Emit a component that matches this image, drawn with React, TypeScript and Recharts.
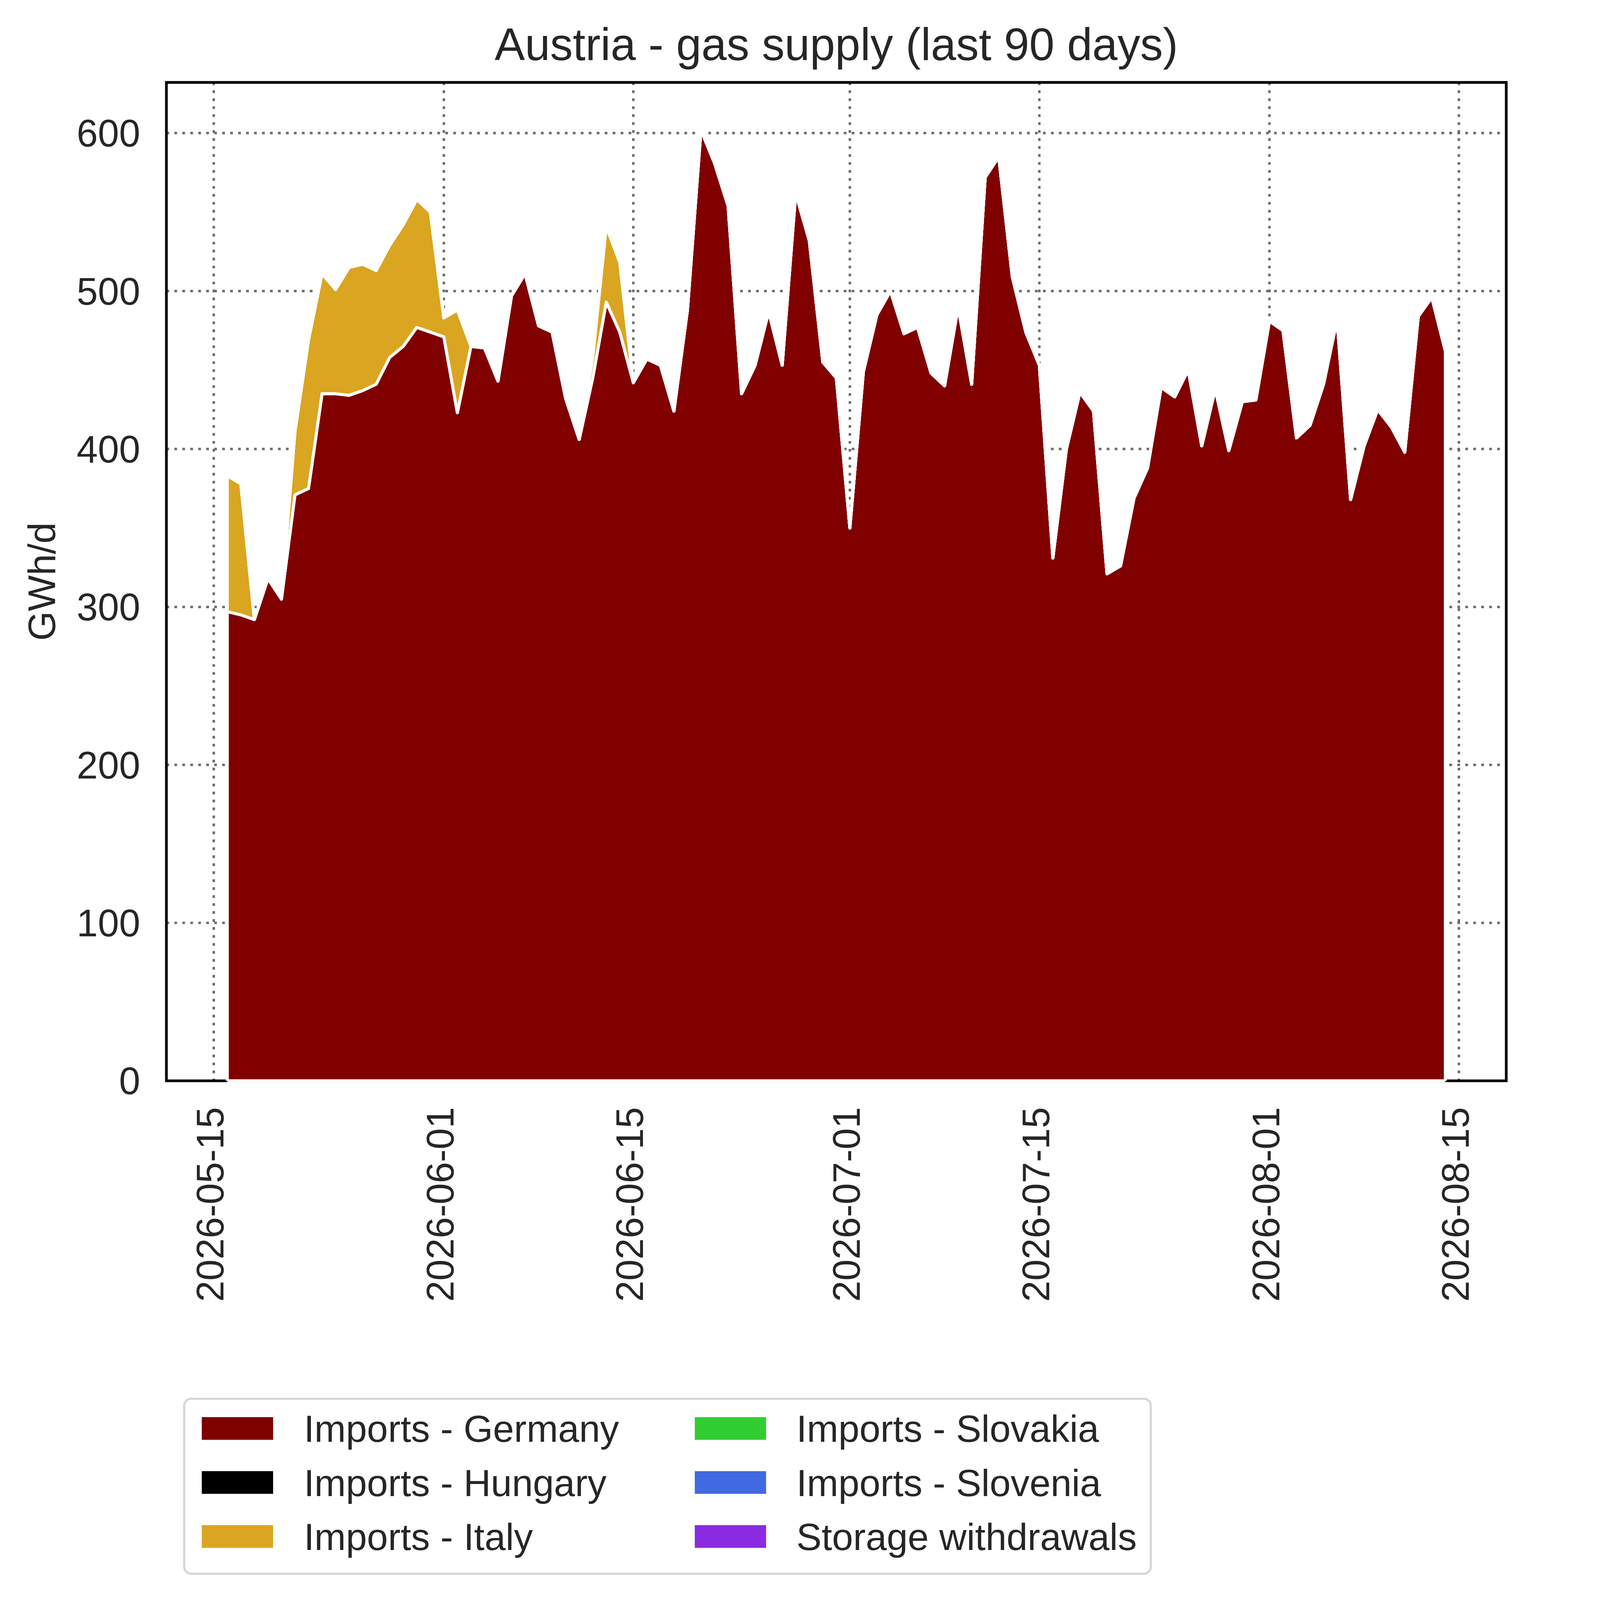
import React from 'react';
import {
  ComposedChart,
  Area,
  Line,
  XAxis,
  YAxis,
  CartesianGrid,
  ReferenceArea,
  ReferenceLine,
  Legend,
} from 'recharts';

// ---------- data ----------
const START_DATE = '2026-05-16';

const GERMANY = [
  297, 295, 292, 318, 305, 371, 375, 435, 435, 434,
  437, 441, 458, 465, 477, 474, 471, 423, 465, 464,
  443, 497, 511, 478, 474, 432, 406, 445, 493, 474,
  442, 457, 453, 424, 488, 602, 581, 554, 435, 453,
  487, 453, 562, 532, 455, 445, 350, 449, 485, 500,
  473, 477, 448, 440, 490, 441, 572, 585, 509, 474,
  453, 331, 400, 436, 424, 321, 326, 369, 388, 439,
  433, 450, 402, 438, 399, 430, 431, 481, 475, 407,
  415, 441, 482, 368, 402, 425, 414, 398, 484, 496,
  462,
];

const HUNGARY = [
  0, 0, 0, 0, 0, 0, 0, 0, 0, 0,
  0, 0, 0, 0, 0, 0, 0, 0, 0, 0,
  0, 0, 0, 0, 0, 0, 0, 0, 0, 0,
  0, 0, 0, 0, 0, 0, 0, 0, 0, 0,
  0, 0, 0, 0, 0, 0, 0, 0, 0, 0,
  0, 0, 0, 0, 0, 0, 0, 0, 0, 0,
  0, 0, 0, 0, 0, 0, 0, 0, 0, 0,
  0, 0, 0, 0, 0, 0, 0, 0, 0, 0,
  0, 0, 0, 0, 0, 0, 0, 0, 0, 0,
  0,
];

const ITALY = [
  86, 83, 0, 0, 0, 40, 94, 76, 66, 81,
  80, 72, 71, 77, 81, 76, 12, 65, 0, 0,
  0, 0, 0, 0, 0, 0, 0, 13, 48, 44,
  0, 0, 0, 0, 0, 0, 0, 0, 0, 0,
  0, 0, 0, 0, 0, 0, 0, 0, 0, 0,
  0, 0, 0, 0, 0, 0, 0, 0, 0, 0,
  0, 0, 0, 0, 0, 0, 0, 0, 0, 0,
  0, 0, 0, 0, 0, 0, 0, 0, 0, 0,
  0, 0, 0, 0, 0, 0, 0, 0, 0, 0,
  0,
];

const SLOVAKIA = [
  0, 0, 0, 0, 0, 0, 0, 0, 0, 0,
  0, 0, 0, 0, 0, 0, 0, 0, 0, 0,
  0, 0, 0, 0, 0, 0, 0, 0, 0, 0,
  0, 0, 0, 0, 0, 0, 0, 0, 0, 0,
  0, 0, 0, 0, 0, 0, 0, 0, 0, 0,
  0, 0, 0, 0, 0, 0, 0, 0, 0, 0,
  0, 0, 0, 0, 0, 0, 0, 0, 0, 0,
  0, 0, 0, 0, 0, 0, 0, 0, 0, 0,
  0, 0, 0, 0, 0, 0, 0, 0, 0, 0,
  0,
];

const SLOVENIA = [
  0, 0, 0, 0, 0, 0, 0, 0, 0, 0,
  0, 0, 0, 0, 0, 0, 0, 0, 0, 0,
  0, 0, 0, 0, 0, 0, 0, 0, 0, 0,
  0, 0, 0, 0, 0, 0, 0, 0, 0, 0,
  0, 0, 0, 0, 0, 0, 0, 0, 0, 0,
  0, 0, 0, 0, 0, 0, 0, 0, 0, 0,
  0, 0, 0, 0, 0, 0, 0, 0, 0, 0,
  0, 0, 0, 0, 0, 0, 0, 0, 0, 0,
  0, 0, 0, 0, 0, 0, 0, 0, 0, 0,
  0,
];

const STORAGE = [
  0, 0, 0, 0, 0, 0, 0, 0, 0, 0,
  0, 0, 0, 0, 0, 0, 0, 0, 0, 0,
  0, 0, 0, 0, 0, 0, 0, 0, 0, 0,
  0, 0, 0, 0, 0, 0, 0, 0, 0, 0,
  0, 0, 0, 0, 0, 0, 0, 0, 0, 0,
  0, 0, 0, 0, 0, 0, 0, 0, 0, 0,
  0, 0, 0, 0, 0, 0, 0, 0, 0, 0,
  0, 0, 0, 0, 0, 0, 0, 0, 0, 0,
  0, 0, 0, 0, 0, 0, 0, 0, 0, 0,
  0,
];

const X_TICK_LABELS = [
  '2026-05-15',
  '2026-06-01',
  '2026-06-15',
  '2026-07-01',
  '2026-07-15',
  '2026-08-01',
  '2026-08-15',
];
const Y_TICKS = [0, 100, 200, 300, 400, 500, 600];

const SERIES = [
  { key: 'germany', name: 'Imports - Germany', color: '#800000', values: GERMANY },
  { key: 'hungary', name: 'Imports - Hungary', color: '#000000', values: HUNGARY },
  { key: 'italy', name: 'Imports - Italy', color: '#DAA520', values: ITALY },
  { key: 'slovakia', name: 'Imports - Slovakia', color: '#32CD32', values: SLOVAKIA },
  { key: 'slovenia', name: 'Imports - Slovenia', color: '#4169E1', values: SLOVENIA },
  { key: 'storage', name: 'Storage withdrawals', color: '#8A2BE2', values: STORAGE },
];

const TITLE = 'Austria - gas supply (last 90 days)';
const Y_LABEL = 'GWh/d';

// ---------- layout (design units = reference pixels) ----------
const W = 5675;
const H = 5923;
const FONT = '"Liberation Sans", Arial, Helvetica, sans-serif';
const TEXT = '#262626';

const getScale = () => {
  if (typeof window === 'undefined') return 1;
  const iw = window.innerWidth || W;
  const ih = window.innerHeight || H;
  return Math.min(1, iw / W, ih / H);
};

const DAY_MS = 86400000;
const dayNum = (s: string) => Date.parse(s + 'T00:00:00Z') / DAY_MS;

const X_VALUES = GERMANY.map((_, i) => dayNum(START_DATE) + i);
const DATA = X_VALUES.map((x, i) => {
  const row: any = { x };
  SERIES.forEach((s) => {
    row[s.key] = s.values[i];
  });
  return row;
});
const TOTALS = DATA.map((r) => SERIES.reduce((a, s) => a + r[s.key], 0));

const X_FIRST = X_VALUES[0];
const X_LAST = X_VALUES[X_VALUES.length - 1];
const X_SPAN = X_LAST - X_FIRST;
const X_DOMAIN: [number, number] = [X_FIRST - 0.05 * X_SPAN, X_LAST + 0.05 * X_SPAN];
const Y_MAX = Math.max(...TOTALS) * 1.05;

const X_TICKS = X_TICK_LABELS.map(dayNum);
const labelOf = (v: number) => {
  const i = X_TICKS.findIndex((t) => Math.abs(t - v) < 1e-6);
  return i >= 0 ? X_TICK_LABELS[i] : '';
};

export default function App() {
  const S = getScale();
  const p = (v: number) => v * S;

  const PLOT_LEFT = p(616);
  const PLOT_RIGHT = p(5576);
  const PLOT_TOP = p(305);
  const PLOT_BOTTOM = p(4001);
  const CW = p(W);
  const CH = p(H);
  const TICK_FS = p(141);
  const EDGE = p(11);

  const XTick = (props: any) => {
    const { x, y, payload } = props;
    return (
      <text
        x={x}
        y={y}
        dy={p(36)}
        textAnchor="end"
        transform={`rotate(-90, ${x}, ${y})`}
        fontSize={TICK_FS}
        fontFamily={FONT}
        fill={TEXT}
      >
        {labelOf(payload.value)}
      </text>
    );
  };

  const LEG = { x: p(682), y: p(5178), w: p(3578), h: p(648) };
  const LEG_COL_SWATCH = [p(747), p(2572)];
  const LEG_COL_TEXT = [p(1125), p(2948)];
  const LEG_ROW_CENTER = [p(5288), p(5488), p(5688)];
  const SW_W = p(264);
  const SW_H = p(84);

  const LegendContent = () => (
    <svg width={CW} height={CH} style={{ position: 'absolute', left: 0, top: 0 }}>
      <rect
        x={LEG.x}
        y={LEG.y}
        width={LEG.w}
        height={LEG.h}
        rx={p(26)}
        ry={p(26)}
        fill="#ffffff"
        stroke="#d6d6d6"
        strokeWidth={p(8)}
      />
      {SERIES.map((s, i) => {
        const col = Math.floor(i / 3);
        const row = i % 3;
        const cy = LEG_ROW_CENTER[row];
        return (
          <g key={s.key}>
            <rect x={LEG_COL_SWATCH[col]} y={cy - SW_H / 2} width={SW_W} height={SW_H} fill={s.color} />
            <text x={LEG_COL_TEXT[col]} y={cy + p(50)} fontSize={p(140)} fontFamily={FONT} fill={TEXT}>
              {s.name}
            </text>
          </g>
        );
      })}
    </svg>
  );

  return (
    <div style={{ position: 'absolute', left: 0, top: 0, width: CW, height: CH, background: '#fff' }}>
      <ComposedChart
        width={CW}
        height={CH}
        data={DATA}
        margin={{ top: PLOT_TOP, right: CW - PLOT_RIGHT, left: 0, bottom: 0 }}
      >
        <CartesianGrid
          stroke="#6b6b6b"
          strokeWidth={p(9)}
          strokeDasharray={`${p(10)} ${p(19.5)}`}
          horizontalValues={Y_TICKS}
          verticalValues={X_TICKS}
        />
        <XAxis
          dataKey="x"
          type="number"
          domain={X_DOMAIN}
          allowDataOverflow
          ticks={X_TICKS}
          interval={0}
          height={CH - PLOT_BOTTOM}
          axisLine={false}
          tickLine={false}
          tickSize={0}
          tickMargin={p(97)}
          tick={<XTick />}
        />
        <YAxis
          type="number"
          domain={[0, Y_MAX]}
          allowDataOverflow
          ticks={Y_TICKS}
          interval={0}
          width={PLOT_LEFT}
          axisLine={false}
          tickLine={false}
          tickSize={0}
          tickMargin={p(97)}
          tick={{ fontSize: TICK_FS, fill: TEXT, fontFamily: FONT }}
        />
        {SERIES.map((s) => (
          <Area
            key={s.key}
            type="linear"
            dataKey={s.key}
            name={s.name}
            stackId="supply"
            fill={s.color}
            fillOpacity={1}
            stroke="#ffffff"
            strokeWidth={EDGE}
            strokeLinejoin="round"
            dot={false}
            activeDot={false}
            isAnimationActive={false}
          />
        ))}
        <Line
          type="linear"
          dataKey="germany"
          stroke="#ffffff"
          strokeWidth={EDGE}
          strokeLinejoin="round"
          dot={false}
          activeDot={false}
          legendType="none"
          isAnimationActive={false}
        />
        <ReferenceLine
          segment={[{ x: X_FIRST, y: 0 }, { x: X_LAST, y: 0 }]}
          stroke="#ffffff"
          strokeWidth={EDGE}
        />
        <ReferenceLine
          segment={[{ x: X_FIRST, y: 0 }, { x: X_FIRST, y: TOTALS[0] }]}
          stroke="#ffffff"
          strokeWidth={EDGE}
        />
        <ReferenceLine
          segment={[{ x: X_LAST, y: 0 }, { x: X_LAST, y: TOTALS[TOTALS.length - 1] }]}
          stroke="#ffffff"
          strokeWidth={EDGE}
        />
        <ReferenceArea
          x1={X_DOMAIN[0]}
          x2={X_DOMAIN[1]}
          y1={0}
          y2={Y_MAX}
          fill="none"
          fillOpacity={0}
          stroke="#000000"
          strokeWidth={p(10)}
          ifOverflow="visible"
        />
        <Legend
          layout="horizontal"
          verticalAlign="middle"
          align="center"
          wrapperStyle={{ left: 0, top: 0, width: CW, height: CH, margin: 0, pointerEvents: 'none' }}
          content={<LegendContent />}
        />
      </ComposedChart>
      <svg width={CW} height={CH} style={{ position: 'absolute', left: 0, top: 0, pointerEvents: 'none' }}>
        <text
          x={(PLOT_LEFT + PLOT_RIGHT) / 2}
          y={p(222)}
          textAnchor="middle"
          fontSize={p(168)}
          fontFamily={FONT}
          fill={TEXT}
        >
          {TITLE}
        </text>
        <text
          x={p(204)}
          y={(PLOT_TOP + PLOT_BOTTOM) / 2}
          textAnchor="middle"
          transform={`rotate(-90, ${p(204)}, ${(PLOT_TOP + PLOT_BOTTOM) / 2})`}
          fontSize={TICK_FS}
          fontFamily={FONT}
          fill={TEXT}
        >
          {Y_LABEL}
        </text>
      </svg>
    </div>
  );
}
